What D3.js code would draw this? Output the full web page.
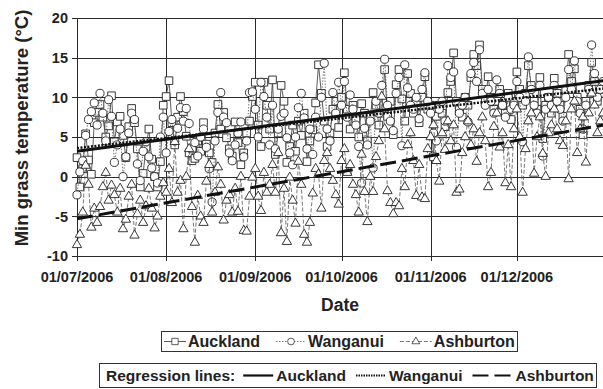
<!DOCTYPE html>
<html>
<head>
<meta charset="utf-8">
<script src="https://cdn.jsdelivr.net/npm/d3@7"></script>
<style>
  html, body { margin: 0; padding: 0; background: #fff; }
  svg { display: block; font-family: "Liberation Sans", Arial, sans-serif; font-weight: bold; }
</style>
</head>
<body>
<svg id="chart" width="603" height="389"></svg>
<script>
// daily minimum grass temperatures, 1 Jul 2006 .. 31 Dec 2006
const seriesNames = ['Auckland', 'Wanganui', 'Ashburton'];

const auckland = [
  2.4, -1.3, 1.0, 5.4, 2.1, 0.3, 6.8, 8.1, 9.1, 7.5, 5.0, 6.4, 10.2, 4.4, 6.9, 7.6, 5.2, 2.4, 6.3, 8.6,
  6.8, 3.5, -1.3, 0.4, 3.7, 6.0, 2.2, 0.0, -1.3, 1.9, 9.0, 10.1, 12.1, 6.8, 4.0, 7.5, 10.1, 8.2, 5.1, 3.0,
  2.0, 2.3, 4.5, 3.2, 6.8, 4.1, 3.0, 1.8, 5.5, 9.1, 6.0, 8.1, 4.9, 3.5, 2.6, 6.9, 4.3, 1.5, 3.0, 5.5,
  7.0, 10.1, 11.9, 6.5, 3.8, 11.9, 9.0, 6.0, 12.2, 2.8, 5.5, 11.5, 9.5, 1.8, 3.8, 6.5, 3.2, 7.0, 5.2, 8.0,
  1.9, 4.5, 5.9, 9.3, 14.1, 10.5, 7.0, 3.8, 5.5, 8.5, 9.5, 6.2, 10.0, 13.1, 8.5, 6.0, 9.0, 7.2, 5.0, 9.2,
  8.0, 4.5, 7.5, 10.6, 9.0, 6.5, 8.0, 13.5, 7.6, 9.5, 5.3, 11.6, 13.5, 9.8, 7.0, 13.0, 10.5, 8.0, 9.5, 6.8,
  10.0, 12.6, 8.5, 9.0, 2.5, 7.6, 9.0, 8.0, 6.3, 10.6, 12.0, 15.6, 9.5, 8.5, 7.5, 10.0, 9.0, 12.5, 15.4, 14.0,
  16.6, 11.0, 9.5, 12.6, 10.0, 8.5, 9.5, 11.0, 9.0, 8.0, 10.5, 7.2, 9.5, 13.2, 11.0, 9.0, 10.5, 14.0, 11.5, 9.5,
  8.5, 12.5, 4.8, 9.0, 10.0, 8.0, 12.4, 10.5, 9.0, 7.6, 11.0, 15.4, 12.0, 13.6, 10.0, 8.5, 5.3, 9.5, 11.5, 14.4,
  12.0, 9.5, 10.5, 11.0
];

const wanganui = [
  -2.3, 0.6, 2.0, 5.2, 7.2, 8.2, 9.3, 6.5, 10.5, 8.0, 4.5, 9.7, 7.6, 1.8, 4.0, 6.0, 0.0, 2.5, 5.5, 8.0,
  7.2, 1.6, -0.5, 3.2, 4.4, 2.5, 1.1, 0.0, -0.8, 5.0, 7.5, 3.0, 5.7, 7.2, 4.5, 6.1, 8.7, 7.0, 8.6, 6.7,
  3.5, 4.3, 2.6, 5.0, 6.0, 3.7, 1.0, -3.2, 4.5, 8.1, 10.6, 7.5, 6.8, 3.0, 2.0, 4.0, 5.5, 6.9, 2.5, 4.5,
  10.6, 10.7, 8.5, 5.0, 11.9, 10.1, 7.5, 4.0, 9.0, 3.5, 6.0, 7.6, 8.0, 4.9, 3.0, 1.5, 5.0, 8.7, 10.5, 7.4,
  3.5, 6.0, 2.8, 7.5, 5.0, 10.0, 14.3, 6.0, 4.5, 10.6, 8.0, 11.9, 9.0, 12.0, 7.5, 10.3, 8.5, 6.5, 3.8, -0.8,
  6.1, 4.0, 7.0, 1.1, 9.5, 8.0, 11.5, 14.8, 9.0, 7.0, 5.8, 10.5, 12.5, 3.9, 14.1, 11.2, 9.0, 8.5, 10.0, 7.3,
  11.0, 13.1, 9.5, 8.0, 5.5, 4.5, 8.5, 9.5, 7.0, 14.0, 12.5, 13.2, 3.7, 8.0, 9.0, 10.0, 6.9, 13.0, 14.4, 12.0,
  16.0, 10.5, 9.0, 11.0, 9.5, 8.0, 12.2, 10.5, 9.0, 7.5, 10.0, 8.5, 9.0, 12.0, 10.0, 4.4, 9.5, 15.1, 11.0, 9.0,
  8.0, 11.5, 2.6, 8.5, 10.0, 9.0, 11.5, 9.5, 8.5, 7.0, 10.0, 13.5, 11.0, 14.6, 9.5, 8.0, 6.0, 9.0, 11.0, 16.6,
  13.0, 10.0, 11.0, 12.0
];

const ashburton = [
  -8.6, -7.3, -4.5, 1.4, -1.0, -6.4, -4.0, -5.8, -3.8, -1.3, 0.5, -3.0, -1.1, -2.3, -4.5, -1.5, -6.6, -5.4, -2.5, -1.0,
  -7.4, -4.7, -3.0, -5.8, -3.7, -1.5, -4.0, -6.5, -5.0, -2.5, -0.8, -2.0, 1.0, -3.3, 4.4, -2.0, -0.5, -6.6, 0.0, 3.5,
  -3.8, -8.3, -2.4, -5.0, -5.8, -0.6, 1.5, -4.5, -2.0, 1.2, -1.0, -5.5, -3.0, -2.3, -4.5, -1.5, -4.4, 0.0, -6.8, -6.9,
  -2.5, -0.1, 1.0, -2.5, -4.3, 0.5, -2.0, -1.0, 1.5, -2.0, 3.0, -7.1, -1.5, -8.2, -0.1, -3.0, -5.9, 1.9, -1.0, -7.3,
  -8.3, -5.8, -2.1, 1.0, 0.3, -4.0, 2.0, 3.0, 1.0, -0.5, -2.3, -3.5, 2.0, 3.5, 0.5, 1.5, -1.0, -2.3, -4.5, 2.8,
  -1.9, -5.7, 0.0, -1.9, 2.5, 4.5, 10.1, 6.0, -1.8, -3.3, -4.7, -3.3, -3.7, 1.0, -1.3, 4.0, 5.5, 2.0, -2.4, 1.5,
  -2.6, -2.8, 3.5, 5.0, 6.5, 2.0, -0.6, 5.5, 3.4, 7.0, 4.5, 6.5, -2.0, -1.6, 3.0, 5.0, 7.0, 4.0, 6.0, 1.9,
  5.5, 7.5, 4.5, -1.3, 0.5, 6.3, 8.0, 3.7, 5.5, -0.8, 4.0, -1.3, 6.0, 8.5, 5.0, -2.0, 3.5, 7.0, 8.0, 0.4,
  5.0, 7.5, 2.9, 0.0, 5.5, 6.5, 8.5, 6.0, 4.5, 3.9, 7.0, -0.3, 8.5, 9.5, 3.0, 6.0, 7.5, 1.8, 8.0, 10.5,
  9.0, 5.5, 7.0, 8.0
];

// regression line values on the first and last day
const regAuckland = [3.2, 12.1];
const regWanganui = [3.6, 11.1];
const regAshburton = [-5.3, 6.5];

const yTicks = [-10, -5, 0, 5, 10, 15, 20];
const startDate = new Date(2006, 6, 1);
const endDate = new Date(2007, 0, 1);
const days = d3.timeDay.range(startDate, endDate);
const monthTicks = d3.timeMonth.range(startDate, endDate);

const svg = d3.select('#chart');
const x = d3.scaleTime().domain([startDate, endDate]).range([77, 606]);
const y = d3.scaleLinear().domain([-10, 20]).range([256, 18]);
const fmt = d3.timeFormat('%d/%m/%Y');
const INK = '#2b2b2b';

// grid
const grid = svg.append('g');
grid.selectAll('line.h').data(yTicks).enter().append('line')
  .attr('x1', x.range()[0] - 5).attr('x2', 603)
  .attr('y1', (d) => Math.round(y(d)) + 0.5).attr('y2', (d) => Math.round(y(d)) + 0.5)
  .attr('stroke', INK).attr('stroke-width', 1);
grid.selectAll('line.v').data(monthTicks).enter().append('line')
  .attr('x1', (d) => Math.round(x(d)) + 0.5).attr('x2', (d) => Math.round(x(d)) + 0.5)
  .attr('y1', y(20)).attr('y2', y(-10) + 5)
  .attr('stroke', INK).attr('stroke-width', 1);

// tick labels
svg.append('g').selectAll('text').data(yTicks).enter().append('text')
  .attr('x', 68).attr('y', (d) => y(d)).attr('dy', '0.36em')
  .attr('text-anchor', 'end').attr('font-size', 14.5).attr('fill', '#222')
  .text((d) => d);
svg.append('g').selectAll('text').data(monthTicks).enter().append('text')
  .attr('x', (d) => x(d)).attr('y', 282)
  .attr('text-anchor', 'middle').attr('font-size', 14.5).attr('fill', '#222')
  .text((d) => fmt(d));

svg.append('text').attr('x', 340).attr('y', 311).attr('text-anchor', 'middle')
  .attr('font-size', 17.5).attr('fill', '#222').text('Date');
svg.append('text').attr('transform', 'translate(28,128) rotate(-90)').attr('text-anchor', 'middle')
  .attr('font-size', 18.5).attr('fill', '#222').text('Min grass temperature (°C)');

// series
const styles = {
  Auckland: { data: auckland, dash: null, color: '#333', shape: d3.symbolSquare, size: 58, legLen: 22 },
  Wanganui: { data: wanganui, dash: '1.5,1.5', color: '#555', shape: d3.symbolCircle, size: 52, legLen: 30 },
  Ashburton: { data: ashburton, dash: '4,2', color: '#555', shape: d3.symbolTriangle, size: 38, legLen: 32 }
};

const line = d3.line().x((d, i) => x(days[i])).y((d) => y(d));

seriesNames.forEach((name) => {
  const s = styles[name];
  const g = svg.append('g');
  g.append('path').attr('d', line(s.data)).attr('fill', 'none')
    .attr('stroke', s.color).attr('stroke-width', 0.8)
    .attr('stroke-dasharray', s.dash);
  g.selectAll('path.m').data(s.data).enter().append('path')
    .attr('transform', (d, i) => `translate(${x(days[i])},${y(d)})`)
    .attr('d', d3.symbol().type(s.shape).size(s.size))
    .attr('fill', '#fff').attr('stroke', '#222').attr('stroke-width', 0.9);
});

// regression lines
const regs = [
  { v: regAuckland, dash: null, w: 3 },
  { v: regWanganui, dash: '2,1.5', w: 2.5 },
  { v: regAshburton, dash: '16,6', w: 3 }
];
const regDays = [days[0], days[days.length - 1]];
regs.forEach((r) => {
  svg.append('line')
    .attr('x1', x(regDays[0])).attr('y1', y(r.v[0]))
    .attr('x2', x(regDays[1])).attr('y2', y(r.v[1]))
    .attr('stroke', '#111').attr('stroke-width', r.w)
    .attr('stroke-dasharray', r.dash);
});

// legend 1
const leg1 = svg.append('g').attr('font-size', 16).attr('fill', '#222');
leg1.append('rect').attr('x', 161.5).attr('y', 331.5).attr('width', 356).attr('height', 20)
  .attr('fill', '#fff').attr('stroke', '#333');
let lx = 164;
seriesNames.forEach((name) => {
  const s = styles[name];
  leg1.append('line').attr('x1', lx).attr('x2', lx + s.legLen).attr('y1', 341.5).attr('y2', 341.5)
    .attr('stroke', s.color).attr('stroke-width', 0.8).attr('stroke-dasharray', s.dash);
  leg1.append('path').attr('transform', `translate(${lx + s.legLen / 2},341.5)`)
    .attr('d', d3.symbol().type(s.shape).size(s.size * 0.7))
    .attr('fill', '#fff').attr('stroke', '#333').attr('stroke-width', 0.8);
  const t = leg1.append('text').attr('x', lx + s.legLen + 2).attr('y', 347).text(name);
  lx += s.legLen + 2 + t.node().getComputedTextLength() + 16;
});

// legend 2
const leg2 = svg.append('g').attr('font-size', 15.5).attr('fill', '#222');
leg2.append('rect').attr('x', 99.5).attr('y', 363.5).attr('width', 497).attr('height', 24)
  .attr('fill', '#fff').attr('stroke', '#333');
let rx = 106;
const t0 = leg2.append('text').attr('x', rx).attr('y', 381).text('Regression lines:');
rx += t0.node().getComputedTextLength() + 8;
const regLeg = [
  { name: 'Auckland', dash: null, w: 2.2, len: 30 },
  { name: 'Wanganui', dash: '1.5,1', w: 2, len: 30 },
  { name: 'Ashburton', dash: '16,6', w: 2.2, len: 40 }
];
regLeg.forEach((r) => {
  leg2.append('line').attr('x1', rx).attr('x2', rx + r.len).attr('y1', 375.5).attr('y2', 375.5)
    .attr('stroke', '#111').attr('stroke-width', r.w).attr('stroke-dasharray', r.dash);
  const t = leg2.append('text').attr('x', rx + r.len + 3).attr('y', 381).text(r.name);
  rx += r.len + 3 + t.node().getComputedTextLength() + 10;
});
</script>
</body>
</html>
